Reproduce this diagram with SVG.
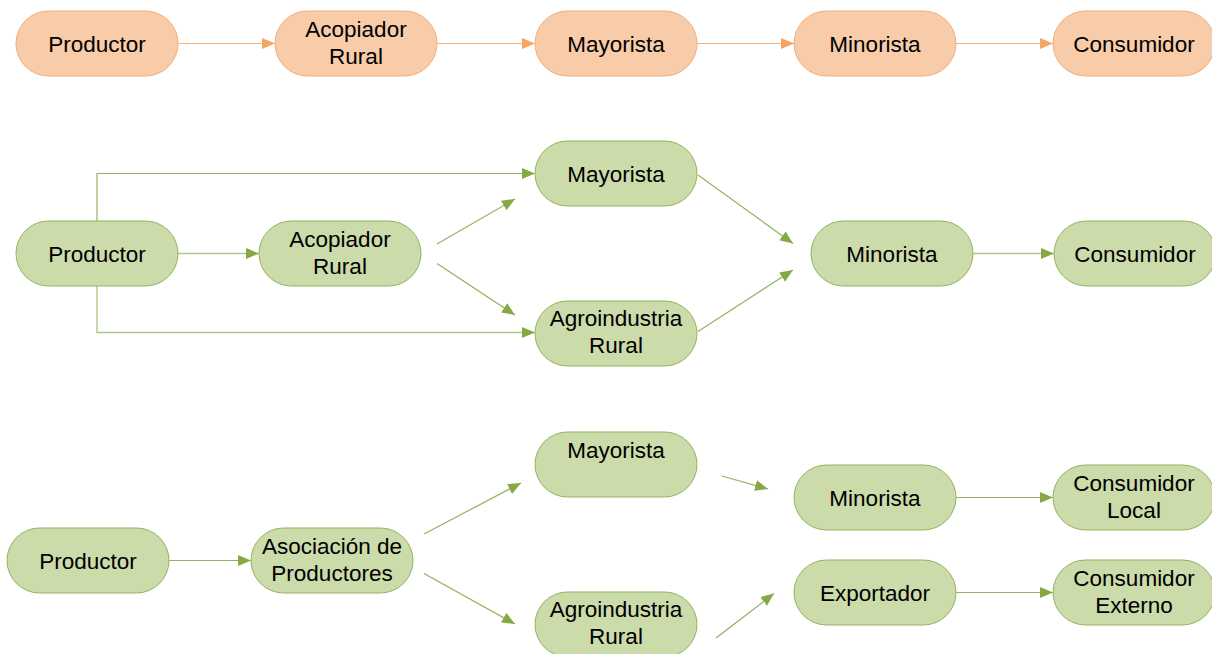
<svg xmlns="http://www.w3.org/2000/svg" width="1212" height="654" viewBox="0 0 1212 654">
  <style>
    .bg { fill: #ffffff; }
    .orange rect { fill: #F8CBA9; stroke: #F2AE78; stroke-width: 1; }
    .green rect { fill: #CBDBAA; stroke: #93B35F; stroke-width: 1; }
    text { font-family: "Liberation Sans", Arial, sans-serif; font-size: 22.5px; fill: #000000; text-anchor: middle; }
    .c-or { stroke: #F6B17F; stroke-width: 1.2; fill: none; marker-end: url(#arrOr); }
    .c-gr { stroke: #93B35F; stroke-width: 1.2; fill: none; marker-end: url(#arrGr); }
    .c-grl { stroke: #AFCA86; stroke-width: 1.4; fill: none; marker-end: url(#arrGr); }
  </style>
  <defs>
    <marker id="arrOr" markerUnits="userSpaceOnUse" markerWidth="14" markerHeight="12" refX="13" refY="5.5" orient="auto">
      <path d="M0,0 L13,5.5 L0,11 Z" fill="#F4A463"/>
    </marker>
    <marker id="arrGr" markerUnits="userSpaceOnUse" markerWidth="14" markerHeight="12" refX="13" refY="5.5" orient="auto">
      <path d="M0,0 L13,5.5 L0,11 Z" fill="#86A945"/>
    </marker>
  </defs>
  <rect class="bg" x="0" y="0" width="1212" height="654"/>

  <!-- connectors -->
  <g id="connectors">
    <!-- chain 1 -->
    <line class="c-or" x1="178" y1="43.5" x2="275" y2="43.5"/>
    <line class="c-or" x1="437" y1="43.5" x2="535" y2="43.5"/>
    <line class="c-or" x1="697" y1="43.5" x2="794" y2="43.5"/>
    <line class="c-or" x1="956" y1="43.5" x2="1053" y2="43.5"/>
    <!-- chain 2 -->
    <line class="c-grl" x1="178" y1="253.5" x2="259" y2="253.5"/>
    <path class="c-gr" d="M97,221 V173.5 H535"/>
    <path class="c-grl" d="M97,286 V332.5 H535"/>
    <line class="c-gr" x1="437" y1="244" x2="515" y2="199"/>
    <line class="c-gr" x1="437" y1="263.5" x2="515" y2="315"/>
    <line class="c-gr" x1="698" y1="175" x2="793" y2="243.5"/>
    <line class="c-gr" x1="698" y1="331.5" x2="793" y2="270"/>
    <line class="c-grl" x1="973" y1="253.5" x2="1054" y2="253.5"/>
    <!-- chain 3 -->
    <line class="c-gr" x1="169" y1="560.5" x2="251" y2="560.5"/>
    <line class="c-gr" x1="424" y1="534" x2="521" y2="483"/>
    <line class="c-gr" x1="424" y1="573.5" x2="515" y2="624"/>
    <line class="c-gr" x1="722" y1="476" x2="768" y2="489"/>
    <line class="c-gr" x1="716" y1="638" x2="774" y2="593.5"/>
    <line class="c-gr" x1="956" y1="497.5" x2="1053" y2="497.5"/>
    <line class="c-gr" x1="956" y1="592.5" x2="1053" y2="592.5"/>
  </g>

  <!-- chain 1 nodes -->
  <g id="c1-productor" class="orange">
    <rect x="16" y="11" width="162" height="65" rx="32.5"/>
    <text x="97" y="51.5">Productor</text>
  </g>
  <g id="c1-acopiador" class="orange">
    <rect x="275" y="11" width="162" height="65" rx="32.5"/>
    <text x="356" y="36.5">Acopiador</text>
    <text x="356" y="63.5">Rural</text>
  </g>
  <g id="c1-mayorista" class="orange">
    <rect x="535" y="11" width="162" height="65" rx="32.5"/>
    <text x="616" y="51.5">Mayorista</text>
  </g>
  <g id="c1-minorista" class="orange">
    <rect x="794" y="11" width="162" height="65" rx="32.5"/>
    <text x="875" y="51.5">Minorista</text>
  </g>
  <g id="c1-consumidor" class="orange">
    <rect x="1053" y="11" width="162" height="65" rx="32.5"/>
    <text x="1134" y="51.5">Consumidor</text>
  </g>

  <!-- chain 2 nodes -->
  <g id="c2-productor" class="green">
    <rect x="16" y="221" width="162" height="65" rx="32.5"/>
    <text x="97" y="261.5">Productor</text>
  </g>
  <g id="c2-acopiador" class="green">
    <rect x="259" y="221" width="162" height="65" rx="32.5"/>
    <text x="340" y="247">Acopiador</text>
    <text x="340" y="274">Rural</text>
  </g>
  <g id="c2-mayorista" class="green">
    <rect x="535" y="141" width="162" height="65" rx="32.5"/>
    <text x="616" y="181.5">Mayorista</text>
  </g>
  <g id="c2-agroindustria" class="green">
    <rect x="535" y="301" width="162" height="65" rx="32.5"/>
    <text x="616" y="326">Agroindustria</text>
    <text x="616" y="353">Rural</text>
  </g>
  <g id="c2-minorista" class="green">
    <rect x="811" y="221" width="162" height="65" rx="32.5"/>
    <text x="892" y="261.5">Minorista</text>
  </g>
  <g id="c2-consumidor" class="green">
    <rect x="1054" y="221" width="162" height="65" rx="32.5"/>
    <text x="1135" y="261.5">Consumidor</text>
  </g>

  <!-- chain 3 nodes -->
  <g id="c3-productor" class="green">
    <rect x="7" y="528" width="162" height="65" rx="32.5"/>
    <text x="88" y="568.5">Productor</text>
  </g>
  <g id="c3-asociacion" class="green">
    <rect x="251" y="528" width="162" height="65" rx="32.5"/>
    <text x="332" y="554">Asociación de</text>
    <text x="332" y="581">Productores</text>
  </g>
  <g id="c3-mayorista" class="green">
    <rect x="535" y="432" width="162" height="65" rx="32.5"/>
    <text x="616" y="458">Mayorista</text>
  </g>
  <g id="c3-agroindustria" class="green">
    <rect x="535" y="592" width="162" height="65" rx="32.5"/>
    <text x="616" y="617">Agroindustria</text>
    <text x="616" y="644">Rural</text>
  </g>
  <g id="c3-minorista" class="green">
    <rect x="794" y="465" width="162" height="65" rx="32.5"/>
    <text x="875" y="505.5">Minorista</text>
  </g>
  <g id="c3-exportador" class="green">
    <rect x="794" y="560" width="162" height="65" rx="32.5"/>
    <text x="875" y="600.5">Exportador</text>
  </g>
  <g id="c3-consumidor-local" class="green">
    <rect x="1053" y="465" width="162" height="65" rx="32.5"/>
    <text x="1134" y="491">Consumidor</text>
    <text x="1134" y="518">Local</text>
  </g>
  <g id="c3-consumidor-externo" class="green">
    <rect x="1053" y="560" width="162" height="65" rx="32.5"/>
    <text x="1134" y="585.5">Consumidor</text>
    <text x="1134" y="612.5">Externo</text>
  </g>
</svg>
